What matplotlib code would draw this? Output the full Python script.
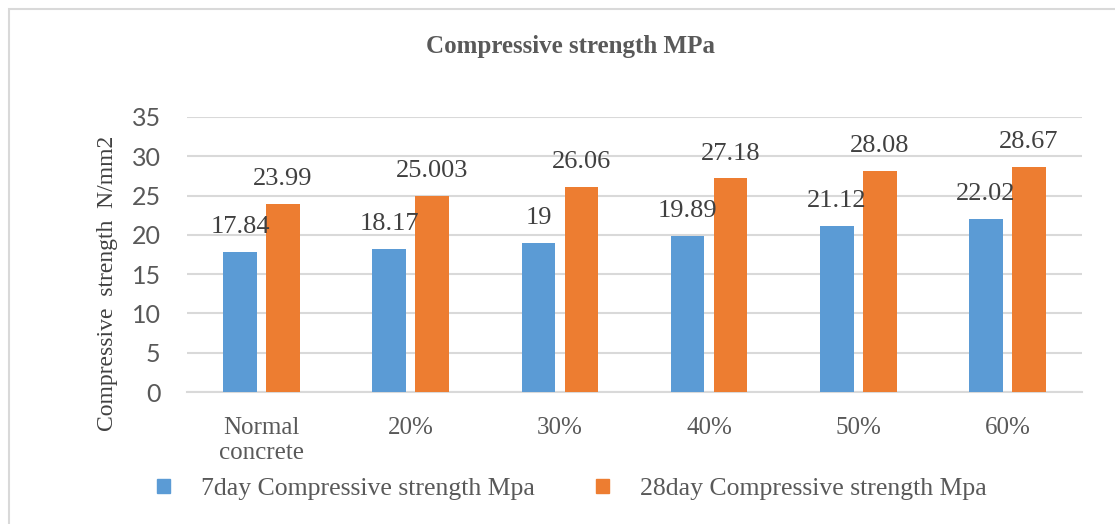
# Compressive strength of 7-day and 28-day specimens, grouped bar chart

import numpy as np
import matplotlib

matplotlib.use('Agg')

import matplotlib.pyplot as plt
from matplotlib.patches import Rectangle, Patch

# ----------------------------
# Data
# ----------------------------

categories = ["Normal\nconcrete", "20%", "30%", "40%", "50%", "60%"]
strength_7day = [17.84, 18.17, 19, 19.89, 21.12, 22.02]
strength_28day = [23.99, 25.003, 26.06, 27.18, 28.08, 28.67]
labels_7day = ["17.84", "18.17", "19", "19.89", "21.12", "22.02"]
labels_28day = ["23.99", "25.003", "26.06", "27.18", "28.08", "28.67"]
series_names = ["7day Compressive strength Mpa", "28day Compressive strength Mpa"]
y_ticks = [0, 5, 10, 15, 20, 25, 30, 35]

BLUE = "#5B9BD5"
ORANGE = "#ED7D31"
GRID = "#D9D9D9"
TEXT = "#595959"
LABEL = "#404040"
SERIF = "Liberation Serif"

# ----------------------------
# Figure and axes
# ----------------------------

W, H = 1115, 524
fig = plt.figure(figsize=(W / 100, H / 100), dpi=100)
fig.patch.set_facecolor("white")

# chart frame (only left and top edges fall inside the image)
fig.add_artist(Rectangle((9 / W, -0.05), 1.2, 1 - 9 / H + 0.05,
                         transform=fig.transFigure, fill=False,
                         edgecolor=GRID, linewidth=1.5))

ax = fig.add_axes([187 / W, 1 - 392 / H, (1082 - 187) / W, (392 - 117) / H])

x = np.arange(len(categories))
width = 0.225
offset = 0.144

bars7 = ax.bar(x - offset, strength_7day, width, color=BLUE, zorder=3)
bars28 = ax.bar(x + offset, strength_28day, width, color=ORANGE, zorder=3)

# value labels above each bar
for bars, texts in ((bars7, labels_7day), (bars28, labels_28day)):
    for b, t in zip(bars, texts):
        ax.annotate(t, (b.get_x() + b.get_width() / 2, b.get_height()),
                    xytext=(0, 10), textcoords="offset points",
                    ha="center", va="bottom", fontsize=19,
                    family=SERIF, color=LABEL, zorder=4)

ax.set_xlim(-0.5, len(categories) - 0.5)
ax.set_ylim(0, 35)
ax.set_yticks(y_ticks)
ax.set_yticklabels([str(v) for v in y_ticks], family="Lato", fontsize=18, color=TEXT)
ax.set_xticks(x)
ax.set_xticklabels(categories, family=SERIF, fontsize=18, color=TEXT, linespacing=1.2)
ax.tick_params(axis="both", length=0)
ax.tick_params(axis="y", pad=19)
ax.tick_params(axis="x", pad=18)

ax.yaxis.grid(True, color=GRID, linewidth=1.5, zorder=0)
for s in ("top", "right", "left"):
    ax.spines[s].set_visible(False)
ax.spines["bottom"].set_color(GRID)
ax.spines["bottom"].set_linewidth(1.5)

ax.set_ylabel("Compressive  strength  N/mm2", family=SERIF, fontsize=17, color=LABEL)
ax.yaxis.label.set_va("center")
ax.yaxis.set_label_coords((108 - 187) / 895, (392 - 283) / 275)

# ----------------------------
# Title and legend
# ----------------------------

fig.text(570 / W, 1 - 46 / H, "Compressive strength MPa", ha="center", va="center",
         family=SERIF, fontsize=18, fontweight="bold", color=TEXT)

handles = [Patch(color=BLUE), Patch(color=ORANGE)]
fig.legend(handles, series_names, loc="center", bbox_to_anchor=(572 / W, 1 - 489 / H),
           ncol=2, frameon=False, handlelength=0.5, handleheight=0.5,
           handletextpad=1.2, columnspacing=2.4,
           prop={"family": SERIF, "size": 18.5}, labelcolor=TEXT)

plt.savefig("out.png", dpi=100)
plt.close()
